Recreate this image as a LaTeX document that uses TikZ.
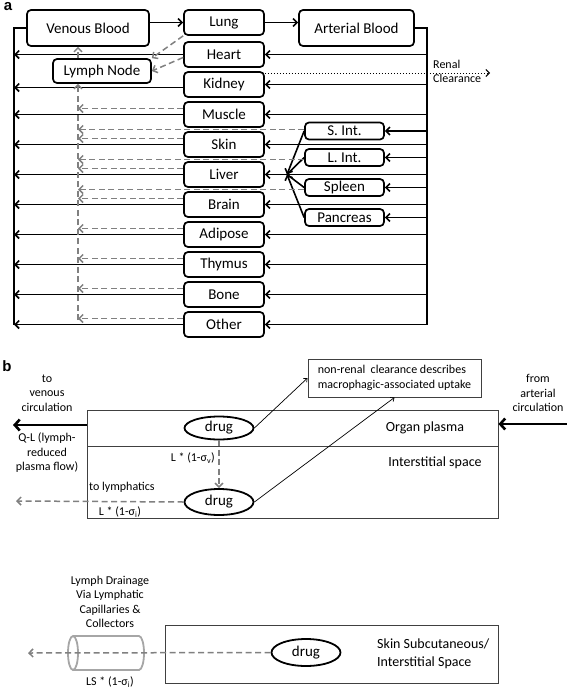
\documentclass[tikz,border=0pt]{standalone}
\usepackage{fontspec}
\setmainfont{Carlito}
\newfontfamily\panelfont{Liberation Sans}
\usetikzlibrary{arrows.meta,shapes.geometric}

\tikzset{
	organ/.style={draw, line width=1.7pt, rounded corners=4pt, fill=white, inner sep=0pt, minimum width=80pt, minimum height=25pt, font=\fontsize{15}{18}\selectfont},
	gut/.style={organ, minimum width=79pt, minimum height=17pt},
	pool/.style={organ, minimum height=36pt},
	pipe/.style={line width=1.6pt},
	flow/.style={pipe, -{Straight Barb[length=4pt,width=8pt]}},
	lymph/.style={gray, line width=1.5pt, dash pattern=on 6pt off 3.5pt, -{Straight Barb[length=4pt,width=8pt]}},
	panel/.style={font=\panelfont\bfseries\fontsize{15}{18}\selectfont},
	note/.style={align=center, font=\fontsize{12}{14.5}\selectfont, inner sep=0pt},
	compartment/.style={draw=black!75, line width=0.9pt, inner sep=0pt},
	drug/.style={draw, ellipse, line width=1.8pt, fill=white, inner sep=0pt, minimum width=69pt, minimum height=23pt, font=\fontsize{15}{18}\selectfont},
	vessel/.style={draw=gray!70, line width=1.8pt},
	thinarrow/.style={line width=0.7pt, -{Straight Barb[length=3pt,width=5pt]}},
	thickarrow/.style={line width=2.6pt, -{Straight Barb[length=5pt,width=11pt]}}
}

\begin{document}
\begin{tikzpicture}[x=1pt,y=-1pt]
	\useasboundingbox (0,0) rectangle (567,691);
	% (a) whole body
	\node[panel] (pa) at (8,7) {a};
	% label
	\node[pool, minimum width=122pt] (venous) at (88,28) {Venous Blood};
	\node[pool, minimum width=115pt] (arterial) at (356.5,28) {Arterial Blood};
	\node[organ, minimum width=98pt, minimum height=24pt] (lymphnode) at (102,71) {Lymph Node};
	\node[organ] (lung) at (224,22.5) {Lung};
	\node[organ] (heart) at (224,54.5) {Heart};
	\node[organ] (kidney) at (224,84.5) {Kidney};
	\node[organ] (muscle) at (224,114.5) {Muscle};
	\node[organ] (skin) at (224,144.5) {Skin};
	\node[organ] (liver) at (224,174.5) {Liver};
	\node[organ] (brain) at (224,204.5) {Brain};
	\node[organ] (adipose) at (224,234.5) {Adipose};
	\node[organ] (thymus) at (224,264.5) {Thymus};
	\node[organ] (bone) at (224,294.5) {Bone};
	\node[organ] (other) at (224,324.5) {Other};
	\node[gut] (sint) at (344.5,131) {S. Int.};
	\node[gut] (lint) at (344.5,157.5) {L. Int.};
	\node[gut] (spleen) at (344.5,187.5) {Spleen};
	\node[gut] (pancreas) at (344.5,217.5) {Pancreas};

	% |
	\coordinate (vtop) at (14,28);
	\coordinate (vbot) at (14,325);
	\coordinate (atop) at (427,28);
	\coordinate (abot) at (427,324.5);
	\draw[pipe] (venous.west) -- (vtop) -- (vbot);
	\draw[pipe] (arterial.east) -- (atop) -- (abot);
	\draw[flow] (lung.west -| venous.east) -- (lung.west);
	\draw[flow] (lung.east) -- (lung.east -| arterial.west);

	% <- venous
	\draw[flow] (heart.west) -- (heart.west -| vtop);
	\draw[flow] ([yshift=-3pt]kidney.west) -- ([yshift=-3pt]kidney.west -| vtop);
	\draw[flow] (muscle.west) -- (muscle.west -| vtop);
	\draw[flow] (skin.west) -- (skin.west -| vtop);
	\draw[flow] (liver.west) -- (liver.west -| vtop);
	\draw[flow] (brain.west) -- (brain.west -| vtop);
	\draw[flow] (adipose.west) -- (adipose.west -| vtop);
	\draw[flow] (thymus.west) -- (thymus.west -| vtop);
	\draw[flow] (bone.west) -- (bone.west -| vtop);
	\draw[flow] (other.west) -- (other.west -| vtop);

	% <- arterial
	\draw[flow] (heart.east -| atop) -- (heart.east);
	\draw[flow] (kidney.east -| atop) -- (kidney.east);
	\draw[flow] (muscle.east -| atop) -- (muscle.east);
	\draw[flow] (skin.east -| atop) -- (skin.east);
	\draw[flow] (liver.east -| atop) -- (liver.east);
	\draw[flow] (brain.east -| atop) -- (brain.east);
	\draw[flow] (adipose.east -| atop) -- (adipose.east);
	\draw[flow] (thymus.east -| atop) -- (thymus.east);
	\draw[flow] (bone.east -| atop) -- (bone.east);
	\draw[flow] (other.east -| atop) -- (other.east);
	\draw[flow] (sint.east -| atop) -- (sint.east);
	\draw[flow] (lint.east -| atop) -- (lint.east);
	\draw[flow] (spleen.east -| atop) -- (spleen.east);
	\draw[flow] (pancreas.east -| atop) -- (pancreas.east);

	% x  portal
	\coordinate (portal) at (287,174.5);
	\draw[flow] (sint.west) -- (portal);
	\draw[pipe] (lint.west) -- (portal);
	\draw[pipe] (spleen.west) -- (portal);
	\draw[flow] (pancreas.west) -- (portal);

	% renal
	\coordinate (renal) at (490,73);
	\draw[dotted, line width=1pt, -{Straight Barb[length=3.5pt,width=7pt]}] ([yshift=11.5pt]kidney.east) -- (renal);
	\node[note, align=left, anchor=west] (clearance) at (433,71.5) {Renal\\Clearance};

	% lymph
	\coordinate (lbot) at (78,320);
	\draw[lymph] (lbot) -- (lbot |- lymphnode.south);
	\draw[lymph] (lbot |- lymphnode.north) -- (lbot |- venous.south);
	\draw[lymph] (lung.south west) -- (lymphnode.north east);
	\draw[lymph] ([yshift=-3pt]heart.west) -- (lymphnode.east);
	\draw[lymph] ([yshift=6pt]muscle.west) -- ([yshift=6pt]muscle.west -| lbot);
	\draw[lymph] ([yshift=6pt]skin.west) -- ([yshift=6pt]skin.west -| lbot);
	\draw[lymph] ([yshift=6pt]liver.west) -- ([yshift=6pt]liver.west -| lbot);
	\draw[lymph] ([yshift=6pt]brain.west) -- ([yshift=6pt]brain.west -| lbot);
	\draw[lymph] ([yshift=6pt]adipose.west) -- ([yshift=6pt]adipose.west -| lbot);
	\draw[lymph] ([yshift=6pt]thymus.west) -- ([yshift=6pt]thymus.west -| lbot);
	\draw[lymph] ([yshift=6pt]bone.west) -- ([yshift=6pt]bone.west -| lbot);
	\draw[lymph] ([yshift=6pt]other.west) -- ([yshift=6pt]other.west -| lbot);
	\draw[lymph] ([yshift=1.5pt]sint.west) -- ([yshift=1.5pt]sint.west -| lbot);
	\draw[lymph] ([yshift=-2pt]lint.west) -- ([yshift=-2pt]lint.west -| lbot);
	\draw[lymph] ([yshift=-2pt]spleen.west) -- ([yshift=-2pt]spleen.west -| lbot);

	% (b) tissue
	\node[panel] (pb) at (7,366) {b};
	\node[compartment, minimum width=411pt, minimum height=36pt] (plasma) at (292.5,428) {};
	\node[compartment, minimum width=411pt, minimum height=72pt] (interstitial) at (292.5,482) {};
	\node[font=\fontsize{14}{17}\selectfont] (plasmalabel) at (425,428) {Organ plasma};
	\node[font=\fontsize{14}{17}\selectfont] (intlabel) at (435,463) {Interstitial space};
	\node[drug] (drug1) at (219,428) {drug};
	\node[drug, minimum height=26pt] (drug2) at (219,502) {drug};
	\node[compartment, align=left, font=\fontsize{12}{14.5}\selectfont, inner sep=6pt, minimum width=173pt, minimum height=38pt] (uptake) at (394.5,378) {non-renal~ clearance describes\\macrophagic-associated uptake};
	\node[note] (tovenous) at (47,393) {to\\venous\\circulation};
	\node[note] (qflow) at (47,453) {Q-L (lymph-\\reduced\\plasma flow)};
	\node[note] (fromart) at (538,393) {from\\arterial\\circulation};

	% ->
	\coordinate (venout) at (13,425);
	\coordinate (artin) at (567,424);
	\draw[thickarrow] ([yshift=3pt]plasma.west) -- (venout);
	\draw[thickarrow] (artin) -- ([yshift=4pt]plasma.east);
	\draw[thinarrow] (drug1.east) -- (uptake.west);
	\draw[thinarrow] (drug2.east) -- (uptake.south);
	\draw[lymph] (drug1.south) -- (drug2.north);
	\node[note, anchor=east] (sigv) at (215,458) {L * (1-σ\textsubscript{v})};
	\coordinate (lymout) at (16,501);
	\draw[lymph] (drug2.west) -- (lymout);
	\node[note, anchor=west] (tolymph) at (89,487) {to lymphatics};
	\node[note] (sigi) at (120,512) {L * (1-σ\textsubscript{i})};

	% skin depot
	\node[compartment, minimum width=333pt, minimum height=58pt] (skinspace) at (331.5,654) {};
	\node[drug, minimum height=27pt] (drug3) at (306,652.5) {drug};
	\node[anchor=west, align=left, font=\fontsize{14}{18}\selectfont, inner sep=0pt] (skinlabel) at (377,654) {Skin Subcutaneous/\\Interstitial Space};
	\draw[vessel] (73,636) -- (139,636) arc[start angle=90, end angle=-90, x radius=5pt, y radius=17pt] -- (73,670);
	\draw[vessel] (73,653) ellipse [x radius=5pt, y radius=17pt];
	\coordinate (lsout) at (28,653);
	\draw[lymph] (drug3.west) -- (lsout);
	\node[note] (drainage) at (110,602) {Lymph Drainage\\Via Lymphatic\\Capillaries \&\\Collectors};
	\node[note] (sigls) at (110,682) {LS * (1-σ\textsubscript{i})};
\end{tikzpicture}
\end{document}
